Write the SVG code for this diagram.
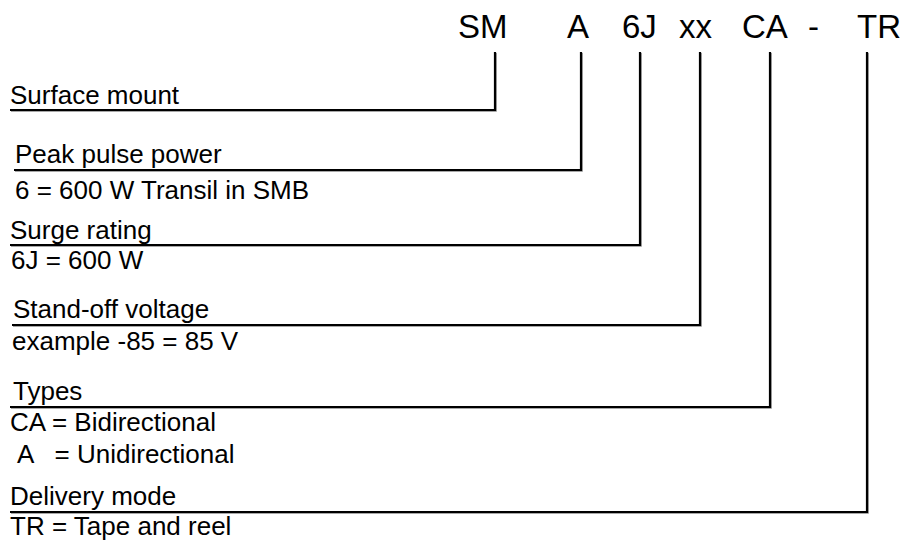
<svg xmlns="http://www.w3.org/2000/svg" width="907" height="542" viewBox="0 0 907 542">
<style>
.bg{fill:#fff}
.hdr{font-family:"Liberation Sans",Arial,sans-serif;font-size:33px;fill:#000}
.lbl{font-family:"Liberation Sans",Arial,sans-serif;font-size:26px;fill:#000}
.ln{fill:none;stroke:#000;stroke-width:2.2;stroke-linejoin:miter}
.sh{fill:none;stroke:#8a8a8a;stroke-width:1.5}
</style>
<rect class="bg" x="0" y="0" width="907" height="542"/>
<g id="code">
<text class="hdr" x="458" y="38">SM</text>
<text class="hdr" x="567" y="38">A</text>
<text class="hdr" x="622" y="38">6J</text>
<text class="hdr" x="679" y="38">xx</text>
<text class="hdr" x="742" y="38">CA</text>
<text class="hdr" x="808" y="38">-</text>
<text class="hdr" x="857" y="38">TR</text>
</g>
<g id="connectors">
<g transform="translate(1,1)">
<polyline class="sh" points="495,52 495,110 10,110"/>
<polyline class="sh" points="581,52 581,170 14,170"/>
<polyline class="sh" points="640,52 640,245 10,245"/>
<polyline class="sh" points="700,52 700,325 12,325"/>
<polyline class="sh" points="770,52 770,407 10,407"/>
<polyline class="sh" points="867,52 867,512 10,512"/>
</g>
<polyline class="ln" points="495,52 495,110 10,110"/>
<polyline class="ln" points="581,52 581,170 14,170"/>
<polyline class="ln" points="640,52 640,245 10,245"/>
<polyline class="ln" points="700,52 700,325 12,325"/>
<polyline class="ln" points="770,52 770,407 10,407"/>
<polyline class="ln" points="867,52 867,512 10,512"/>
</g>
<g id="surface-mount">
<text class="lbl" x="10" y="104">Surface mount</text>
</g>
<g id="peak-pulse-power">
<text class="lbl" x="15" y="163">Peak pulse power</text>
<text class="lbl" x="15" y="199">6 = 600 W Transil in SMB</text>
</g>
<g id="surge-rating">
<text class="lbl" x="10" y="239">Surge rating</text>
<text class="lbl" x="11" y="269">6J = 600 W</text>
</g>
<g id="stand-off-voltage">
<text class="lbl" x="13" y="318">Stand-off voltage</text>
<text class="lbl" x="12" y="350">example -85 = 85 V</text>
</g>
<g id="types">
<text class="lbl" x="13" y="400">Types</text>
<text class="lbl" x="10" y="431">CA = Bidirectional</text>
<text class="lbl" x="17" y="463" xml:space="preserve">A   = Unidirectional</text>
</g>
<g id="delivery-mode">
<text class="lbl" x="10" y="505">Delivery mode</text>
<text class="lbl" x="10" y="535">TR = Tape and reel</text>
</g>
</svg>
